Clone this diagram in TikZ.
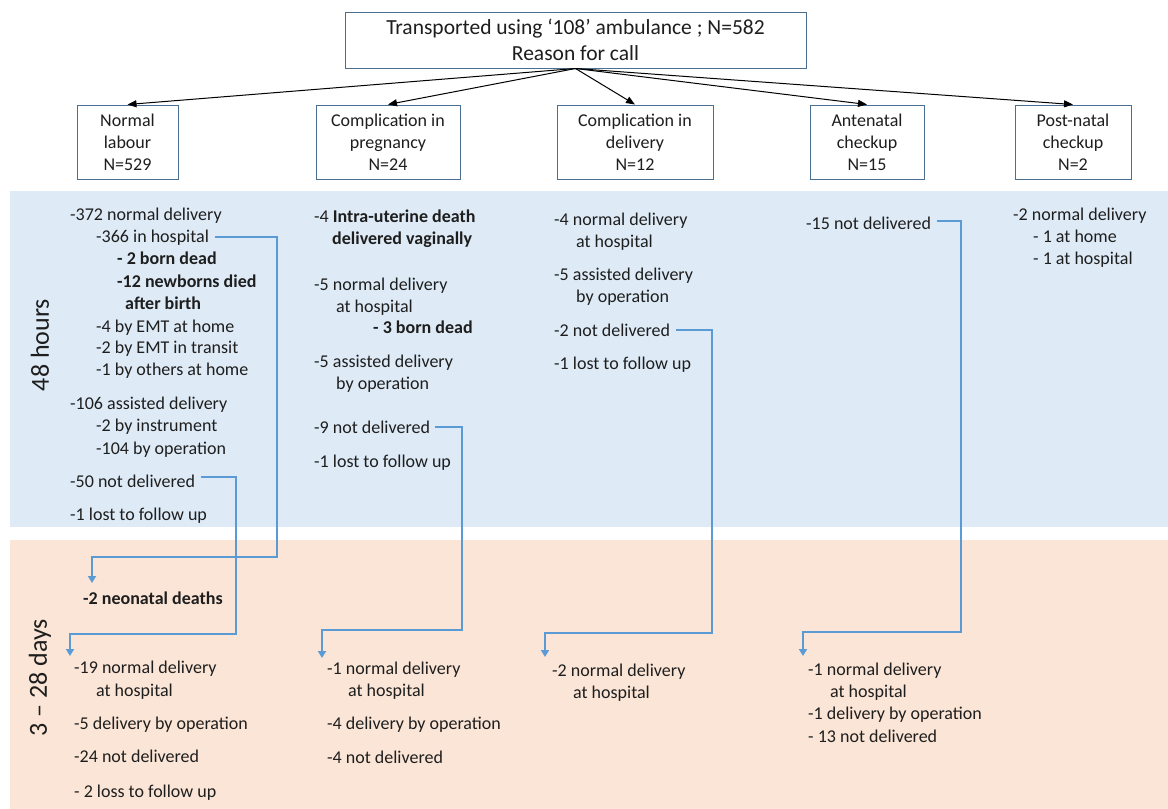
\documentclass[tikz,border=0pt]{standalone}
\usepackage{fontspec}
\setmainfont{Carlito}
\usetikzlibrary{arrows.meta}

\definecolor{bandblue}{HTML}{DEEBF7}
\definecolor{bandorange}{HTML}{FBE5D6}
\definecolor{flowblue}{HTML}{5B9BD5}
\definecolor{boxline}{HTML}{4A6F91}
\definecolor{ink}{HTML}{1E1E1E}

\tikzset{
  reason/.style={draw=boxline, line width=1pt, fill=white, align=center, text=ink,
    minimum height=74pt, inner sep=0pt, font=\fontsize{18}{22}\selectfont},
  txt/.style={anchor=base west, inner sep=0pt, text=ink, font=\fontsize{18}{22}\selectfont},
  btxt/.style={txt, font=\fontsize{18}{22}\selectfont\bfseries},
  period/.style={rotate=90, text=ink, font=\fontsize{26}{30}\selectfont},
  flow/.style={draw=flowblue, line width=2pt, -{Triangle[width=8pt,length=7pt]}},
  split/.style={draw=black, line width=1pt, -{Triangle[width=7pt,length=9pt]}}
}

\begin{document}
\begin{tikzpicture}[x=1pt,y=-1pt]
    \useasboundingbox (0,0) rectangle (1168,809);
    % Bands
    \fill[bandblue] (10,191) rectangle (1168,527);
    \fill[bandorange] (10,540) rectangle (1168,809);
    \node[period] (h48) at (40,345) {48 hours};
    \node[period] (d328) at (40,678) {3 – 28 days};

    % Reason for call
    \node[reason, minimum width=461pt, minimum height=56pt, font=\fontsize{21.5}{26}\selectfont]
        (top) at (575.5,40) {Transported using ‘108’ ambulance ; N=582\\Reason for call};
    \node[reason, minimum width=101pt] (nl) at (127.5,142) {Normal\\labour\\N=529};
    \node[reason, minimum width=144pt] (cp) at (388,142) {Complication in\\pregnancy\\N=24};
    \node[reason, minimum width=156pt] (cd) at (635,142) {Complication in\\delivery\\N=12};
    \node[reason, minimum width=114pt] (ac) at (867,142) {Antenatal\\checkup\\N=15};
    \node[reason, minimum width=116pt] (pc) at (1073,142) {Post-natal\\checkup\\N=2};

    \draw[split] (top.south) -- (nl.north);
    \draw[split] (top.south) -- (cp.north);
    \draw[split] (top.south) -- (cd.north);
    \draw[split] (top.south) -- (ac.north);
    \draw[split] (top.south) -- (pc.north);

    % 48 hours: normal labour
    \node[txt] (a1) at (70,220) {-372 normal delivery};
    \node[txt] (a2) at (96,242) {-366 in hospital};
    \node[btxt] (a3) at (117,264) {- 2 born dead};
    \node[btxt] (a4) at (117,287) {-12 newborns died};
    \node[btxt] (a5) at (125,309) {after birth};
    \node[txt] (a6) at (96,332) {-4 by EMT at home};
    \node[txt] (a7) at (96,353) {-2 by EMT in transit};
    \node[txt] (a8) at (96,375) {-1 by others at home};
    \node[txt] (a9) at (70,409) {-106 assisted delivery};
    \node[txt] (a10) at (96,431) {-2 by instrument};
    \node[txt] (a11) at (96,454) {-104 by operation};
    \node[txt] (a12) at (70,487) {-50 not delivered};
    \node[txt] (a13) at (70,520) {-1 lost to follow up};

    % 48 hours: complication in pregnancy
    \node[txt] (b1) at (314,222) {-4 \textbf{Intra-uterine death}};
    \node[btxt] (b2) at (332,244) {delivered vaginally};
    \node[txt] (b3) at (314,290) {-5 normal delivery};
    \node[txt] (b4) at (336,312) {at hospital};
    \node[btxt] (b5) at (373,333) {- 3 born dead};
    \node[txt] (b6) at (314,367) {-5 assisted delivery};
    \node[txt] (b7) at (336,389) {by operation};
    \node[txt] (b8) at (314,433) {-9 not delivered};
    \node[txt] (b9) at (314,467) {-1 lost to follow up};

    % 48 hours: complication in delivery
    \node[txt] (c1) at (554,225) {-4 normal delivery};
    \node[txt] (c2) at (576,247) {at hospital};
    \node[txt] (c3) at (554,280) {-5 assisted delivery};
    \node[txt] (c4) at (576,302) {by operation};
    \node[txt] (c5) at (554,336) {-2 not delivered};
    \node[txt] (c6) at (554,369) {-1 lost to follow up};

    % 48 hours: antenatal and post-natal
    \node[txt] (d1) at (806,229) {-15 not delivered};
    \node[txt] (e1) at (1013,220) {-2 normal delivery};
    \node[txt] (e2) at (1033,242) {- 1 at home};
    \node[txt] (e3) at (1033,264) {- 1 at hospital};

    % 3 - 28 days
    \node[btxt] (na) at (83,604) {-2 neonatal deaths};
    \node[txt] (f1) at (74,673) {-19 normal delivery};
    \node[txt] (f2) at (96,696) {at hospital};
    \node[txt] (f3) at (74,729) {-5 delivery by operation};
    \node[txt] (f4) at (74,762) {-24 not delivered};
    \node[txt] (f5) at (74,797) {- 2 loss to follow up};

    \node[txt] (g1) at (327,674) {-1 normal delivery};
    \node[txt] (g2) at (348,696) {at hospital};
    \node[txt] (g3) at (327,729) {-4 delivery by operation};
    \node[txt] (g4) at (327,763) {-4 not delivered};

    \node[txt] (k1) at (552,676) {-2 normal delivery};
    \node[txt] (k2) at (573,698) {at hospital};

    \node[txt] (m1) at (808,675) {-1 normal delivery};
    \node[txt] (m2) at (830,697) {at hospital};
    \node[txt] (m3) at (808,719) {-1 delivery by operation};
    \node[txt] (m4) at (808,742) {- 13 not delivered};

    % Follow up arrows
    \coordinate (bendA) at (277,557);
    \coordinate (inA) at (92,583);
    \coordinate (bendB) at (236,634);
    \coordinate (inB) at (70,656);
    \coordinate (bendC) at (462,630);
    \coordinate (inC) at (322,658);
    \coordinate (bendD) at (712,633);
    \coordinate (inD) at (545,657);
    \coordinate (bendE) at (961,632);
    \coordinate (inE) at (803,656);
    \draw[flow] ([xshift=6pt]a2.east) -| (bendA) -| (inA);
    \draw[flow] ([xshift=6pt,yshift=4pt]a12.east) -| (bendB) -| (inB);
    \draw[flow] ([xshift=5pt]b8.east) -| (bendC) -| (inC);
    \draw[flow] ([xshift=6pt]c5.east) -| (bendD) -| (inD);
    \draw[flow] ([xshift=6pt,yshift=2pt]d1.east) -| (bendE) -| (inE);
\end{tikzpicture}
\end{document}
